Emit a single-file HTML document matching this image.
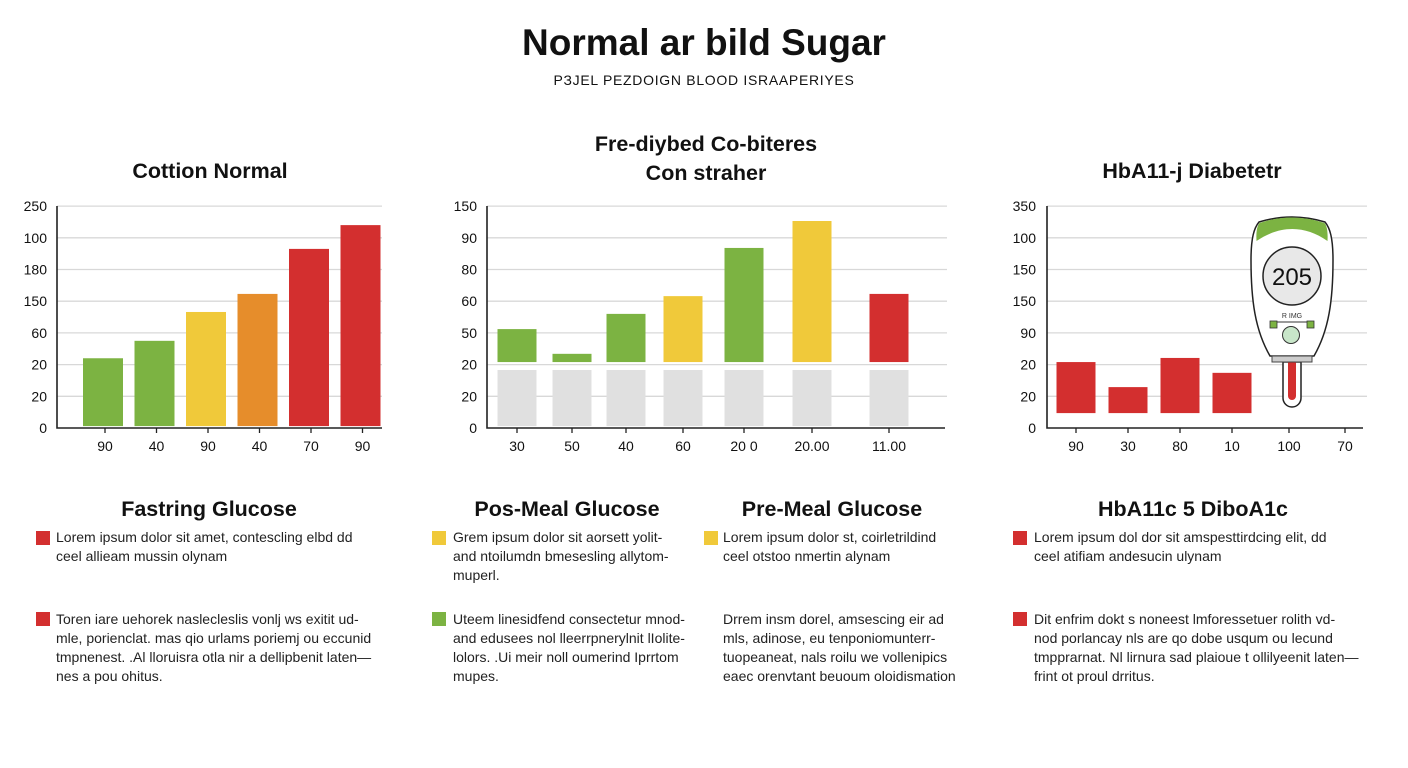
<!DOCTYPE html>
<html><head><meta charset="utf-8"><style>
body{margin:0;width:1408px;height:768px;background:#fff;font-family:"Liberation Sans",sans-serif;color:#111;position:relative;overflow:hidden}
.a{position:absolute;white-space:nowrap}
.h{font-weight:bold;font-size:21.5px;transform:translateX(-50%);text-align:center}
.t{font-size:14px;line-height:19px;color:#222}
.sq{position:absolute;width:14px;height:14px}
</style></head><body>
<div class="a" style="left:704px;top:22px;transform:translateX(-50%);font-size:37px;font-weight:bold">Normal ar bild Sugar</div>
<div class="a" style="left:704px;top:72px;transform:translateX(-50%);font-size:14px;letter-spacing:0.7px">PЗJEL PEZDOIGN BLOOD ISRAAPERIYES</div>
<div class="a h" style="left:210px;top:159px">Cottion Normal</div>
<div class="a h" style="left:706px;top:130px;line-height:29px">Fre-diybed Co-biteres<br>Con straher</div>
<div class="a h" style="left:1192px;top:159px">HbA11-j Diabetetr</div>

<svg id="svg" width="1408" height="768" style="position:absolute;left:0;top:0"></svg>

<div class="a h" style="left:209px;top:497px">Fastring Glucose</div>
<div class="a h" style="left:567px;top:497px">Pos-Meal Glucose</div>
<div class="a h" style="left:832px;top:497px">Pre-Meal Glucose</div>
<div class="a h" style="left:1193px;top:497px">HbA11c 5 DiboA1c</div>

<div class="sq" style="left:36px;top:531px;background:#d32f2f"></div>
<div class="a t" style="left:56px;top:528px">Lorem ipsum dolor sit amet, contescling elbd dd<br>ceel allieam mussin olynam</div>
<div class="sq" style="left:36px;top:612px;background:#d32f2f"></div>
<div class="a t" style="left:56px;top:610px">Toren iare uehorek naslecleslis vonlj ws exitit ud-<br>mle, porienclat. mas qio urlams poriemj ou eccunid<br>tmpnenest. .Al lloruisra otla nir a dellipbenit laten—<br>nes a pou ohitus.</div>

<div class="sq" style="left:432px;top:531px;background:#f0c93a"></div>
<div class="a t" style="left:453px;top:528px">Grem ipsum dolor sit aorsett yolit-<br>and ntoilumdn bmesesling allytom-<br>muperl.</div>
<div class="sq" style="left:432px;top:612px;background:#7cb342"></div>
<div class="a t" style="left:453px;top:610px">Uteem linesidfend consectetur mnod-<br>and edusees nol lleerrpnerylnit lIolite-<br>lolors. .Ui meir noll oumerind Iprrtom<br>mupes.</div>

<div class="sq" style="left:704px;top:531px;background:#f0c93a"></div>
<div class="a t" style="left:723px;top:528px">Lorem ipsum dolor st, coirletrildind<br>ceel otstoo nmertin alynam</div>
<div class="a t" style="left:723px;top:610px">Drrem insm dorel, amsescing eir ad<br>mls, adinose, eu tenponiomunterr-<br>tuopeaneat, nals roilu we vollenipics<br>eaec orenvtant beuoum oloidismation</div>

<div class="sq" style="left:1013px;top:531px;background:#d32f2f"></div>
<div class="a t" style="left:1034px;top:528px">Lorem ipsum dol dor sit amspesttirdcing elit, dd<br>ceel atifiam andesucin ulynam</div>
<div class="sq" style="left:1013px;top:612px;background:#d32f2f"></div>
<div class="a t" style="left:1034px;top:610px">Dit enfrim dokt s noneest lmforessetuer rolith vd-<br>nod porlancay nls are qo dobe usqum ou lecund<br>tmpprarnat. Nl lirnura sad plaioue t ollilyeenit laten—<br>frint ot proul drritus.</div>

<script>
// shared y-axis index scale (grid slots 0..7)
const tickLabels1 = ['0','20','20','60','150','180','100','250'];
const tickLabels2 = ['0','20','20','50','60','80','90','150'];
const tickLabels3 = ['0','20','20','90','150','150','100','350'];
const cats1 = ['90','40','90','40','70','90'];
const vals1 = [2.2,2.75,3.66,4.23,5.65,6.4];
const cols1 = ['#7cb342','#7cb342','#f0c93a','#e68d2b','#d32f2f','#d32f2f'];
const cats2 = ['30','50','40','60','20 0','20.00','11.00'];
const base2 = [1.83,1.83,1.83,1.83,1.83,1.83,1.83];
const start2 = [2.08,2.08,2.08,2.08,2.08,2.08,2.08];
const vals2 = [3.12,2.34,3.60,4.16,5.68,6.53,4.23];
const cols2 = ['#7cb342','#7cb342','#7cb342','#f0c93a','#7cb342','#f0c93a','#d32f2f'];
const cats3 = ['90','30','80','10','100','70'];
const start3 = [0.47,0.47,0.47,0.47];
const vals3 = [2.08,1.29,2.21,1.74];

const svg=document.getElementById('svg');
const NS='http://www.w3.org/2000/svg';
function mk(tag,attrs,parent){const e=document.createElementNS(NS,tag);for(const k in attrs)e.setAttribute(k,attrs[k]);(parent||svg).appendChild(e);return e;}
const Y0=428, STEP=31.7;
function y(v){return Y0-v*STEP;}

function axes(ax0,ax1,gx1,labels,labelX,name){
  for(let i=1;i<labels.length;i++){
    const g=mk('line',{x1:ax0,x2:gx1,y1:y(i),y2:y(i),stroke:'#d8d8d8','stroke-width':1.3});
    
    
  }
  labels.forEach((l,i)=>{
    const t=mk('text',{x:labelX,y:y(i)+5,'text-anchor':'end','font-size':14,fill:'#111','font-family':'Liberation Sans, sans-serif'});
    t.textContent=l;
    
    
  });
  const a=mk('path',{d:`M${ax0} 206 V${Y0} H${ax1}`,stroke:'#222','stroke-width':1.6,fill:'none'});
  
  
}
function xlabels(cats,xs,name){
  cats.forEach((c,i)=>{
    mk('line',{x1:xs[i],x2:xs[i],y1:Y0,y2:Y0+5,stroke:'#222','stroke-width':1.3});
    const t=mk('text',{x:xs[i],y:451,'text-anchor':'middle','font-size':14,fill:'#111','font-family':'Liberation Sans, sans-serif'});
    t.textContent=c;
    
    
  });
}
function bar(cx,w,v0,v1,col,name){
  const r=mk('rect',{x:cx-w/2,y:y(v1),width:w,height:y(v0)-y(v1),fill:col});
  
  
}
// chart 1
axes(57,382,382,tickLabels1,47,'chart1');
const xs1=cats1.map((c,i)=>103+i*51.5);
vals1.forEach((v,i)=>bar(xs1[i],40,0.06,v,cols1[i],'chart1-bar'));
xlabels(cats1,xs1.map(x=>x+2),'chart1');
// chart 2
axes(487,945,947,tickLabels2,477,'chart2');
const xs2=[517,572,626,683,744,812,889];
vals2.forEach((v,i)=>{bar(xs2[i],39,0.06,base2[i],'#e0e0e0','chart2-base-bar');bar(xs2[i],39,start2[i],v,cols2[i],'chart2-bar');});
xlabels(cats2,xs2,'chart2');
// chart 3
axes(1047,1363,1367,tickLabels3,1036,'chart3');
const xs3=[1076,1128,1180,1232,1289,1345];
vals3.forEach((v,i)=>bar(xs3[i],39,start3[i],v,'#d32f2f','chart3-bar'));
xlabels(cats3,xs3,'chart3');

// glucose meter illustration
const m=mk('g',{});


mk('path',{d:'M1283 362 V398 a9 9 0 0 0 18 0 V362 Z',fill:'#fff',stroke:'#222','stroke-width':1.5},m);
mk('path',{d:'M1288 362 V396 a4 4 0 0 0 8 0 V362 Z',fill:'#d32f2f'},m);
mk('path',{d:'M1270 356 C1255 330 1251 300 1251 260 C1251 238 1254 228 1259 222 Q1292 212 1325 222 C1330 228 1333 238 1333 260 C1333 300 1329 330 1314 356 Z',fill:'#fff',stroke:'#222','stroke-width':1.5},m);
mk('path',{d:'M1256.5 241 C1256 232 1257 226 1259.5 223 Q1292 212 1324.5 223 C1327 226 1328 232 1327.5 241 C1305 225 1280 225 1256.5 241 Z',fill:'#7cb342'},m);
mk('rect',{x:1272,y:356,width:40,height:6,fill:'#ccc',stroke:'#444','stroke-width':1},m);
mk('circle',{cx:1292,cy:276,r:29,fill:'#e8e8e8',stroke:'#222','stroke-width':1.5},m);
const rd=mk('text',{x:1292,y:285,'text-anchor':'middle','font-size':24,fill:'#111','font-family':'Liberation Sans, sans-serif'},m);
rd.textContent='205';
const sm=mk('text',{x:1292,y:318,'text-anchor':'middle','font-size':7,fill:'#333','font-family':'Liberation Sans, sans-serif'},m);
sm.textContent='R IMG';
mk('line',{x1:1274,x2:1310,y1:322,y2:322,stroke:'#333','stroke-width':1},m);
mk('rect',{x:1270,y:321,width:7,height:7,fill:'#7cb342',stroke:'#333','stroke-width':0.8},m);
mk('rect',{x:1307,y:321,width:7,height:7,fill:'#7cb342',stroke:'#333','stroke-width':0.8},m);
mk('circle',{cx:1291,cy:335,r:8.5,fill:'#c8e6c9',stroke:'#333','stroke-width':1},m);
</script>
</body></html>
